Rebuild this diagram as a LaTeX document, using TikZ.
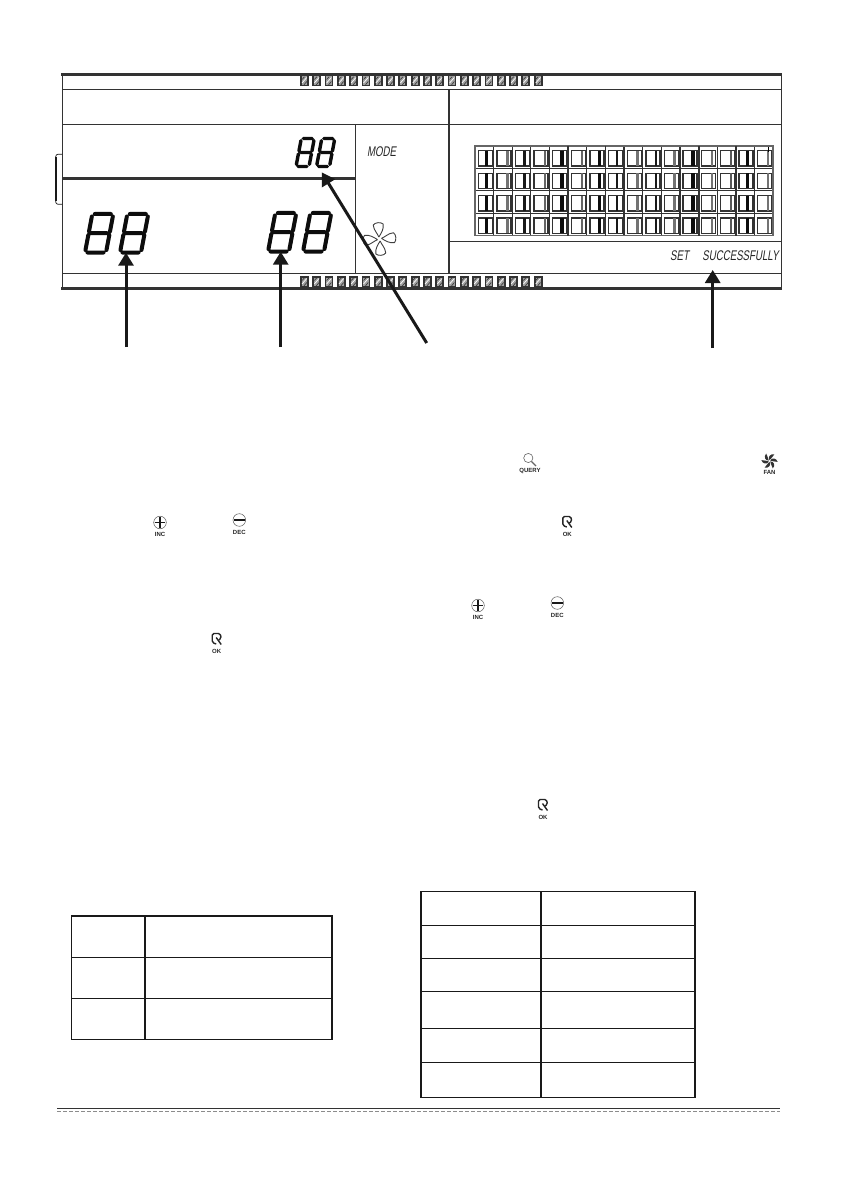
\documentclass[tikz,border=0pt]{standalone}
\usepackage{fontspec}
\usetikzlibrary{arrows.meta}
\newfontfamily\lcdfont[FakeSlant=0.16,FakeStretch=0.69]{Liberation Sans}
\newfontfamily\btnfont[Scale=1]{Liberation Sans Bold}
\definecolor{panel}{HTML}{333333}
\definecolor{hatch}{HTML}{A0A0A0}
\tikzset{
  heavy/.style={draw=panel,line width=2.2pt},
  thin line/.style={draw=panel,line width=1pt},
  tabline/.style={draw=black!90,line width=1.2pt},
  callout/.style={draw=black!90,line width=3pt,-{Triangle[length=13pt,width=15pt]},shorten >=0pt},
  lcdtext/.style={font=\lcdfont\fontsize{14}{14}\selectfont,inner sep=0pt,text=black!85},
  btnlabel/.style={font=\btnfont\fontsize{6}{6}\selectfont,inner sep=0pt,text=black!85},
  seg/.style={draw=black!95,line cap=round}
}
% one seven-segment digit: x, y(bottom), w, h, line width
\newcommand{\lcddigit}[5]{%
  \begin{scope}[shift={(#1,#2)},xslant=0.19]
    \def\w{#3}\def\h{#4}
    \pgfmathsetmacro{\hh}{\h/2}
    \pgfmathsetmacro{\gp}{#5*0.62}
    \pgfmathsetmacro{\wa}{\w-\gp}
    \pgfmathsetmacro{\ha}{\h-\gp}
    \pgfmathsetmacro{\ma}{\hh+\gp*0.7}
    \pgfmathsetmacro{\mb}{\hh-\gp*0.7}
    \draw[seg,line width=#5pt]
      (\gp,-\h)--(\wa,-\h)
      (\gp,-\hh)--(\wa,-\hh)
      (\gp,0)--(\wa,0)
      (0,-\ha)--(0,-\ma)
      (\w,-\ha)--(\w,-\ma)
      (0,-\mb)--(0,-\gp)
      (\w,-\mb)--(\w,-\gp);
  \end{scope}}
\newcommand{\incicon}[3]{%
  \node[btnlabel] at (#1,#2+11.5) (#3) {INC};
  \draw[black!65,line width=.5pt] (#1,#2) circle (6.3);
  \draw[black!90,line width=1.5pt] (#1-5.3,#2)--(#1+5.3,#2) (#1,#2-5.3)--(#1,#2+5.3);}
\newcommand{\decicon}[3]{%
  \node[btnlabel] at (#1,#2+12) (#3) {DEC};
  \draw[black!65,line width=.5pt] (#1,#2) circle (6.3);
  \draw[black!90,line width=1.4pt] (#1-5.3,#2)--(#1+5.3,#2);}
\newcommand{\okicon}[3]{%
  \node[btnlabel] at (#1,#2+12.5) (#3) {OK};
  \draw[black!85,line width=1.4pt,rounded corners=1.6pt]
    (#1-0.5,#2+5)--(#1-4.5,#2+3.5)--(#1-4.5,#2-5.5)--(#1+3.5,#2-5.5)--(#1+4.5,#2-0.5)--(#1+2,#2+1);
  \draw[black!85,line width=1.4pt] (#1-0.5,#2-1.5)--(#1+4.5,#2+5.5);}
\begin{document}
\begin{tikzpicture}[x=1pt,y=-1pt]
\useasboundingbox[fill=white] (0,0) rectangle (840,1190);

% hatched segment bars
\foreach \i in {0,...,19}{
  \pgfmathsetmacro{\xa}{300+\i*12.3}
  \foreach \ya in {75,276}{
    \fill[panel] (\xa,\ya) rectangle (\xa+8.8,\ya+11.5);
    \fill[hatch] (\xa+1.8,\ya+1.5) rectangle (\xa+7,\ya+10);
    \draw[white,line width=.7pt] (\xa+2,\ya+8)--(\xa+6.8,\ya+2.5);
    \draw[panel,line width=.6pt] (\xa+2,\ya+4.5)--(\xa+4.5,\ya+1.8) (\xa+4,\ya+9.8)--(\xa+6.8,\ya+6.5);
  }
}

% panel frame and dividers
\draw[thin line] (62,74.5)--(62,288) (781,74.5)--(781,288);
\draw[heavy] (61,74.5)--(782,74.5);
\draw[draw=panel,line width=2.6pt] (61,288.3)--(782,288.3);
\draw[thin line] (62,89.3)--(781,89.3);
\draw[thin line] (62,124.3)--(781,124.3);
\draw[thin line] (62,273.3)--(781,273.3);
\draw[thin line] (449,241.7)--(781,241.7);
\draw[draw=panel,line width=2.6pt] (62,178.3)--(355.5,178.3);
\draw[thin line] (355.3,124.3)--(355.3,273.3);
\draw[draw=panel,line width=1.4pt] (448.8,89.3)--(448.8,273.3);
\draw[tabline,line width=.7pt,rounded corners=2pt] (62,154.3)--(55.8,154.3)--(55.8,204.2)--(62,204.2);
\draw[tabline,line width=1.5pt] (55.8,157)--(55.8,201);

% seven-segment digits
\lcddigit{85}{252.5}{21}{38.5}{4}
\lcddigit{120}{252.5}{21}{38.5}{4}
\lcddigit{268}{251.5}{21}{38.5}{4}
\lcddigit{303}{251.5}{21}{38.5}{4}
\lcddigit{296}{166.5}{13}{28}{3.4}
\lcddigit{316.5}{166.5}{13}{28}{3.4}

% LCD labels
\node[lcdtext] (mode) at (381.5,152) {MODE};
\node[lcdtext] (set) at (679.5,256) {SET};
\node[lcdtext] (succ) at (740.5,256) {SUCCESSFULLY};

% fan symbol
\begin{scope}[shift={(379.5,239)}]
  \foreach \r in {5,95,185,275}{
    \draw[black!75,line width=.9pt,rotate=\r,line join=round,fill=white]
      (-.5,-2) .. controls (-1.5,-6) and (-5,-9) .. (-5,-14.5)
      .. controls (-3,-17) and (3,-17) .. (5,-14.5)
      .. controls (5,-9) and (2.5,-6) .. (-.5,-2);
  }
\end{scope}

% character matrix
\fill[white] (475,146) rectangle (773,235.7);
\foreach \c/\shade/\off/\wd in {0/95/11.5/3.4,1/55/14/2.6,2/90/12.5/3.2,3/60/14/2.6,4/95/12.5/3.6,5/60/13.5/2,6/95/13/3.4,7/90/11.5/2,8/55/13/3,9/90/13.5/2,10/55/13/2.6,11/95/13/3.4,12/55/13/2,13/65/13.5/2.4,14/95/11.5/3.4,15/55/13.5/2.4}{
  \pgfmathsetmacro{\xa}{475+\c*18.63}
  \foreach \r in {0,1,2,3}{
    \pgfmathsetmacro{\ya}{146+\r*22.42}
    \draw[panel,line width=1.2pt] (\xa,\ya) rectangle (\xa+18.63,\ya+22.42);
    \draw[black!80,line width=1.4pt] (\xa+3.2,\ya+4.8) rectangle (\xa+17.2,\ya+20.2);
    \draw[black!\shade,line width=\wd pt] (\xa+\off,\ya+5)--(\xa+\off,\ya+20);
  }
}
\draw[draw=black!60,line width=1.3pt] (475,146) rectangle (773,235.7);
\draw[panel,line width=1.8pt] (568.2,146)--(568.2,235.7) (605.5,146)--(605.5,235.7) (698.6,146)--(698.6,235.7) (736,146)--(736,235.7);
\draw[black,line width=.6pt] (768,147.5)--(768,152);

% callout arrows
\coordinate (a1s) at (126,347);   \coordinate (a1e) at (126,252.7);
\coordinate (a2s) at (280.7,347); \coordinate (a2e) at (280.7,251.7);
\coordinate (a3s) at (426.7,343); \coordinate (a3e) at (321.7,172.3);
\coordinate (a4s) at (712.7,348); \coordinate (a4e) at (712.7,270);
\draw[callout] (a1s)--(a1e);
\draw[callout] (a2s)--(a2e);
\draw[callout] (a3s)--(a3e);
\draw[callout] (a4s)--(a4e);

% button symbols in the text area
\incicon{160}{522.5}{incA}
\decicon{239.3}{520}{decA}
\okicon{216.7}{639}{okA}
\incicon{478}{605.5}{incB}
\decicon{557.3}{603}{decB}
\okicon{567.3}{522}{okB}
\okicon{543}{805}{okC}

% query
\node[btnlabel] (query) at (530,470.5) {QUERY};
\draw[black!60,line width=.6pt] (528.3,458) circle (4.6);
\draw[black!60,line width=1.1pt] (531.5,461.5)--(536,466);

% fan key
\node[btnlabel] (fankey) at (769.5,472) {FAN};
\begin{scope}[shift={(769.5,461)}]
  \foreach \r in {0,60,...,300}{
    \fill[black!80,rotate=\r] (0,-.8) .. controls (1.5,-3) and (4,-4.5) .. (4.8,-6.6)
      .. controls (1,-7.5) and (-2.2,-4) .. (0,-.8);
  }
\end{scope}

% left table
\draw[draw=black!90,line width=1.2pt] (71.5,916) rectangle (332,1039.3);
\draw[draw=black!90,line width=1.2pt] (145,916)--(145,1039.3);
\draw[draw=black!90,line width=1.2pt] (71.5,957.3)--(332,957.3) (71.5,998.3)--(332,998.3);

% right table
\draw[draw=black!90,line width=1.2pt] (421,891.3) rectangle (695,1097.5);
\draw[draw=black!90,line width=1.2pt] (541,891.3)--(541,1097.5);
\draw[draw=black!90,line width=1.2pt] (421,925.3)--(695,925.3) (421,958.5)--(695,958.5) (421,991.5)--(695,991.5) (421,1028.5)--(695,1028.5) (421,1062.5)--(695,1062.5);

% footer rules
\draw[draw=black!80,line width=.8pt] (57,1108.5)--(780,1108.5);
\draw[draw=black!45,line width=1.1pt,dash pattern=on 3.5pt off 2.5pt] (57,1111.7)--(780,1111.7);
\end{tikzpicture}
\end{document}
